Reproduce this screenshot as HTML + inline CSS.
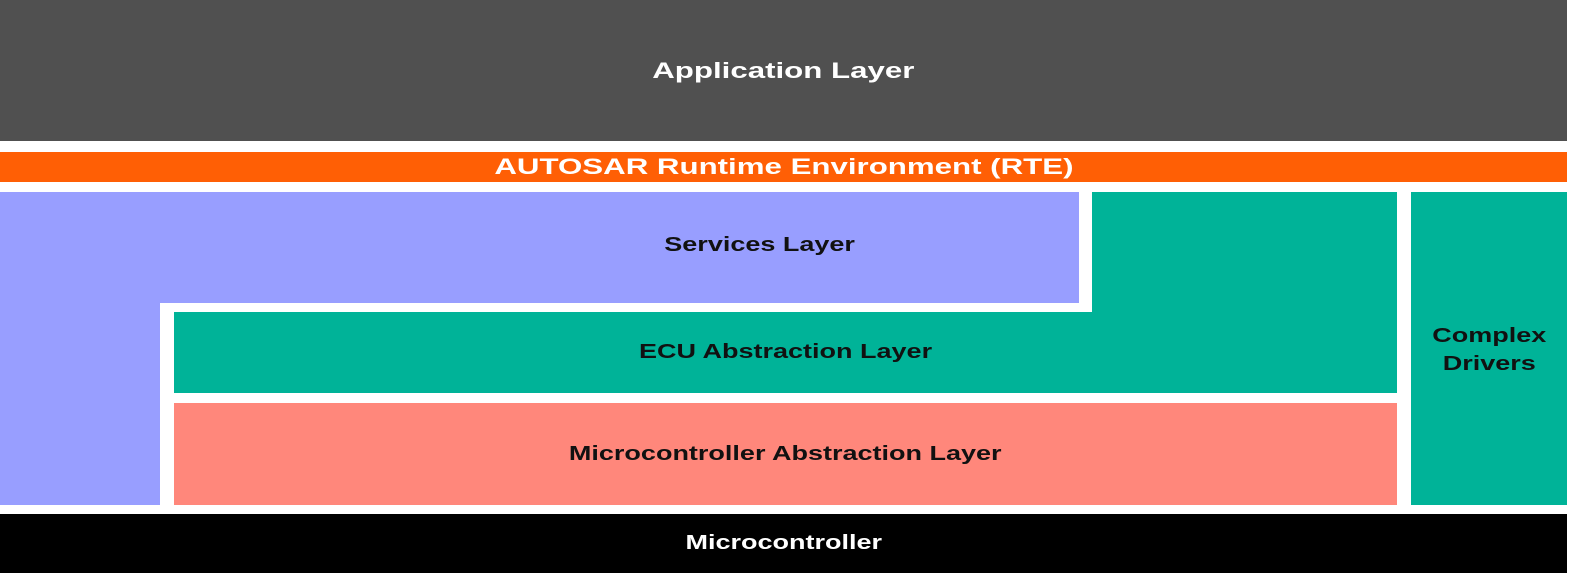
<!DOCTYPE html>
<html><head><style>
body{margin:0;width:1575px;height:575px;background:#fff;position:relative;overflow:hidden;font-family:"Liberation Sans",Arial,sans-serif;font-weight:bold}
div{position:absolute}
.t{display:flex;align-items:center;justify-content:center;text-align:center;font-size:20px}
.t span{display:inline-block;transform:scaleX(1.35)}
.b span{transform:scaleX(1.42)}
</style></head><body>
<div class="t b" style="left:0;top:0;width:1567px;height:141px;background:#505050;color:#fff;font-size:22px"><span>Application Layer</span></div>
<div class="t b" style="left:0;top:152px;width:1567px;height:30px;background:#ff5f05;color:#fff;font-size:22px"><span>AUTOSAR Runtime Environment (RTE)</span></div>
<div style="left:0;top:192px;width:1079px;height:111px;background:#989eff"></div>
<div style="left:0;top:192px;width:160px;height:313px;background:#989eff"></div>
<div class="t" style="left:440px;top:230px;width:640px;height:30px;color:#111"><span>Services Layer</span></div>
<div style="left:1092px;top:192px;width:305px;height:201px;background:#00b398"></div>
<div class="t" style="left:174px;top:312px;width:1223px;height:81px;background:#00b398;color:#111"><span>ECU Abstraction Layer</span></div>
<div class="t" style="left:174px;top:403px;width:1223px;height:102px;background:#ff877b;color:#111"><span>Microcontroller Abstraction Layer</span></div>
<div class="t" style="left:1411px;top:192px;width:156px;height:313px;background:#00b398;color:#111;line-height:28px;padding-top:2px;box-sizing:border-box"><span>Complex<br>Drivers</span></div>
<div class="t" style="left:0;top:514px;width:1567px;height:59px;background:#000;color:#fff"><span>Microcontroller</span></div>
</body></html>
